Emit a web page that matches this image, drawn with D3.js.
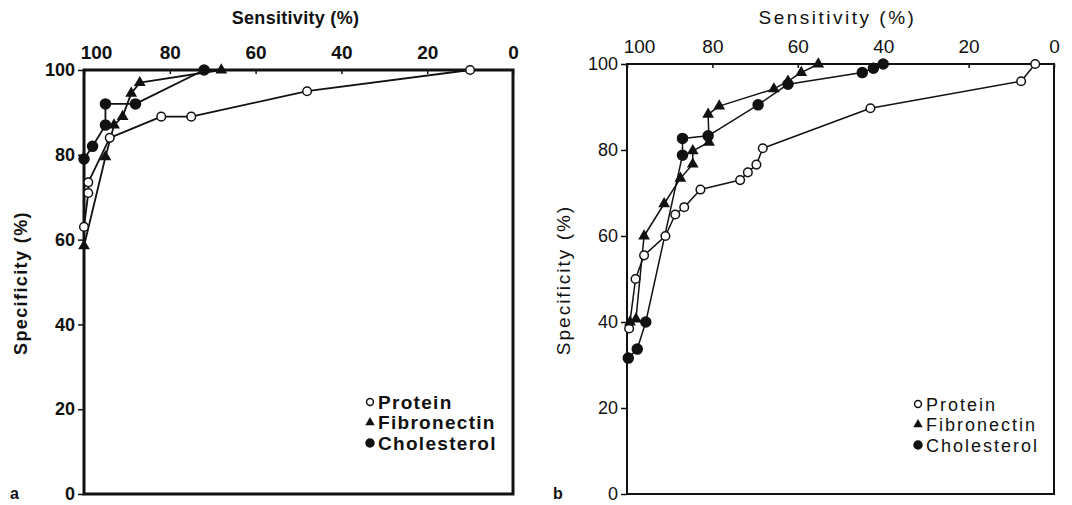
<!DOCTYPE html>
<html>
<head>
<meta charset="utf-8">
<style>
  body { margin: 0; background: #fff; }
  svg { display: block; }
  text { font-family: "Liberation Sans", Arial, Helvetica, sans-serif; fill: #111; }
</style>
</head>
<body>
<div id="chart"></div>
<script src="https://cdn.jsdelivr.net/npm/d3@7"></script>
<script>
// tick values
var sensTicks = [100, 80, 60, 40, 20, 0]
var specTicks = [100, 80, 60, 40, 20, 0]
var seriesNames = ["Protein", "Fibronectin", "Cholesterol"]

// panel a : [sensitivity, specificity]
var aProtein     = [[100, 63], [99, 71], [99, 73.5], [94, 84], [82, 89], [75, 89], [48, 95], [10, 100]]
var aFibronectin = [[100, 58.5], [95, 79.5], [93, 87], [91, 89], [89, 94.5], [87, 97], [68, 100]]
var aCholesterol = [[100, 79], [98, 82], [95, 87], [95, 92], [88, 92], [72, 100]]

// panel b
var bProtein     = [[99.5, 38.5], [98, 50], [96, 55.5], [91, 60], [88.7, 65], [86.6, 66.7], [82.8, 70.8],
                    [73.5, 73], [71.7, 74.8], [69.7, 76.6], [68.2, 80.4], [43, 89.7], [7.7, 96], [4.4, 100]]
var bFibronectin = [[99.3, 40], [97.9, 40.7], [96, 60], [91.3, 67.5], [87.5, 73.4], [84.6, 76.7], [84.6, 79.8],
                    [80.8, 81.8], [81, 88.3], [78.4, 90.2], [65.6, 94.2], [62.3, 96], [59.2, 98], [55.2, 100]]
var bCholesterol = [[99.7, 31.6], [97.6, 33.7], [95.6, 40], [87, 78.8], [87, 82.7], [81, 83.3],
                    [69.3, 90.5], [62.3, 95.3], [44.9, 98], [42.3, 99], [40, 100]]

var svg = d3.select("#chart").append("svg")
  .attr("width", 1072).attr("height", 505)

var panels = [
  {letter: "a", left: 84, right: 513, top: 70, bottom: 494, weight: "bold", axisW: 3, lineW: 1.8,
   titleSize: 18, titleSp: 0.3, ySize: 18, ySp: 1.4, tickSize: 18, legSize: 19, legSp: 1.3,
   series: [aProtein, aFibronectin, aCholesterol], legendX: 370, legendY: 402},
  {letter: "b", left: 627, right: 1054, top: 64, bottom: 494, weight: "normal", axisW: 2, lineW: 1.5,
   titleSize: 19, titleSp: 2.5, ySize: 19, ySp: 2, tickSize: 18, legSize: 18, legSp: 2,
   series: [bProtein, bFibronectin, bCholesterol], legendX: 918, legendY: 404}
]

var shapes = ["open", "tri", "dot"]

function marker(g, shape, cx, cy, s) {
  if (shape == "tri") {
    g.append("path")
      .attr("d", d3.symbol().type(d3.symbolTriangle).size(60 * s * s)())
      .attr("transform", "translate(" + cx + "," + cy + ")")
      .attr("fill", "#111")
  } else {
    g.append("circle")
      .attr("cx", cx).attr("cy", cy)
      .attr("r", (shape == "dot" ? 5 : 4.3) * s)
      .attr("fill", shape == "dot" ? "#111" : "#fff")
      .attr("stroke", "#111").attr("stroke-width", 1.5)
  }
}

panels.forEach(function(p) {
  var g = svg.append("g")
  var x = d3.scaleLinear().domain([100, 0]).range([p.left, p.right])
  var y = d3.scaleLinear().domain([0, 100]).range([p.bottom, p.top])

  // top axis (sensitivity)
  var xa = g.append("g").attr("transform", "translate(0," + p.top + ")")
    .call(d3.axisTop(x).tickValues(sensTicks).tickSize(-4).tickPadding(10))
  xa.select(".domain").remove()
  xa.selectAll("line").attr("stroke", "#111").attr("stroke-width", 1.5)
  xa.selectAll("text")
    .attr("font-size", p.tickSize + 1).attr("font-weight", p.weight).attr("fill", "#111")
    .attr("dx", function(d) { return d == 100 ? 12 : 0 })
    .attr("dy", "-0.05em")
    .style("font-family", "'Liberation Sans', Arial, sans-serif")

  // left axis (specificity)
  var ya = g.append("g").attr("transform", "translate(" + p.left + ",0)")
    .call(d3.axisLeft(y).tickValues(specTicks).tickSize(6).tickPadding(3))
  ya.select(".domain").remove()
  ya.selectAll("line").attr("stroke", "#111").attr("stroke-width", 1.5)
  ya.selectAll("text")
    .attr("font-size", p.tickSize).attr("font-weight", p.weight).attr("fill", "#111")
    .attr("dy", function(d) { return d == 0 ? "0.28em" : "0.32em" })
    .style("font-family", "'Liberation Sans', Arial, sans-serif")

  // frame
  g.append("rect")
    .attr("x", p.left).attr("y", p.top)
    .attr("width", p.right - p.left).attr("height", p.bottom - p.top)
    .attr("fill", "none").attr("stroke", "#111").attr("stroke-width", p.axisW)

  // titles
  g.append("text")
    .attr("x", (p.left + p.right) / 2 - 3).attr("y", 24)
    .attr("text-anchor", "middle").attr("font-size", p.titleSize).attr("font-weight", p.weight)
    .style("letter-spacing", p.titleSp + "px")
    .text("Sensitivity (%)")
  g.append("text")
    .attr("transform", "translate(" + (p.left - 57) + "," + ((p.top + p.bottom) / 2 + 1) + ") rotate(-90)")
    .attr("text-anchor", "middle").attr("font-size", p.ySize).attr("font-weight", p.weight)
    .style("letter-spacing", p.ySp + "px")
    .text("Specificity (%)")
  g.append("text")
    .attr("x", p.left - 74).attr("y", p.bottom + 5)
    .attr("font-size", 16).attr("font-weight", "bold")
    .text(p.letter)

  // curves
  var line = d3.line().x(function(d) { return x(d[0]) }).y(function(d) { return y(d[1]) })
  p.series.forEach(function(data) {
    g.append("path").datum(data)
      .attr("fill", "none").attr("stroke", "#111").attr("stroke-width", p.lineW)
      .attr("stroke-linejoin", "round")
      .attr("d", line)
  })
  p.series.forEach(function(data, i) {
    data.forEach(function(d) { marker(g, shapes[i], x(d[0]), y(d[1]), 1) })
  })

  // legend
  seriesNames.forEach(function(name, i) {
    var ly = p.legendY + i * 20.5
    marker(g, shapes[i], p.legendX, ly, 0.8)
    g.append("text")
      .attr("x", p.legendX + 8).attr("y", ly + 6.5)
      .attr("font-size", p.legSize).attr("font-weight", p.weight)
      .style("letter-spacing", p.legSp + "px")
      .text(name)
  })
})
</script>
</body>
</html>
